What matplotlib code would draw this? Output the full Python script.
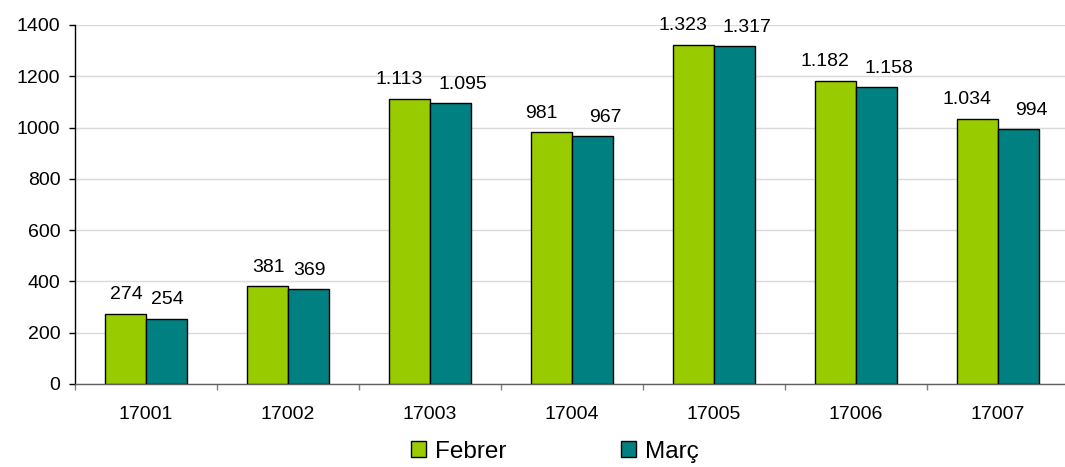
import matplotlib
matplotlib.use("Agg")
import matplotlib.pyplot as plt
import numpy as np

categories = ["17001", "17002", "17003", "17004", "17005", "17006", "17007"]
febrer = [274, 381, 1113, 981, 1323, 1182, 1034]
marc = [254, 369, 1095, 967, 1317, 1158, 994]
series_names = ["Febrer", "Març"]
yticks = [0, 200, 400, 600, 800, 1000, 1200, 1400]

plt.rcParams['font.family'] = ['Liberation Sans', 'DejaVu Sans']

W, H = 1065, 467
fig = plt.figure(figsize=(W / 100, H / 100), dpi=100)
ax = fig.add_axes([75 / W, (H - 384) / H, (1069 - 75) / W, (384 - 25) / H])

x = np.arange(len(categories))
bw = 0.29
c1, c2 = "#99CC00", "#008080"
b1 = ax.bar(x - bw / 2, febrer, bw, color=c1, edgecolor="black", linewidth=1.0, zorder=3, label=series_names[0])
b2 = ax.bar(x + bw / 2, marc, bw, color=c2, edgecolor="black", linewidth=1.0, zorder=3, label=series_names[1])

def fmt(v):
    return f"{v:,}".replace(",", ".")

# label placement: in the original the labels of the later groups are spread apart
spread = [False, False, True, True, True, True, True]
for bars, vals, shift in ((b1, febrer, -7.5), (b2, marc, 9.0)):
    for r, v, sp in zip(bars, vals, spread):
        ax.annotate(fmt(v), (r.get_x() + r.get_width() / 2, v),
                    xytext=(shift if sp else 0.5, 10.4),
                    textcoords="offset points", ha="center", va="baseline", fontsize=14)

ax.set_xlim(-0.5, len(categories) - 0.5)
ax.set_ylim(0, 1400)
ax.set_yticks(yticks)
ax.set_yticklabels([str(t) for t in yticks], fontsize=14)
ax.yaxis.grid(True, color="#D9D9D9", linewidth=1.0, zorder=0)
ax.set_axisbelow(True)

ax.set_xticks(x)
ax.set_xticklabels(categories, fontsize=14)
ax.set_xticks(np.arange(-0.5, len(categories), 1.0), minor=True)
ax.tick_params(axis="x", which="major", length=0, pad=16)
ax.tick_params(axis="x", which="minor", length=4.5, color="#808080", width=1.0)
ax.tick_params(axis="y", length=4.5, width=1.0, pad=6.0, color="black")

for s in ("top", "right"):
    ax.spines[s].set_visible(False)
ax.spines["left"].set_color("black")
ax.spines["left"].set_linewidth(1.0)
ax.spines["bottom"].set_color("#606060")
ax.spines["bottom"].set_linewidth(1.0)

fig.legend(handles=[b1, b2], labels=series_names, loc="center",
           bbox_to_anchor=(555 / W, 1 - 451.7 / H), ncol=2, frameon=False,
           fontsize=17.5, handlelength=0.6, handleheight=0.6,
           handletextpad=0.4, columnspacing=4.7)

fig.savefig("out.png", dpi=100)
